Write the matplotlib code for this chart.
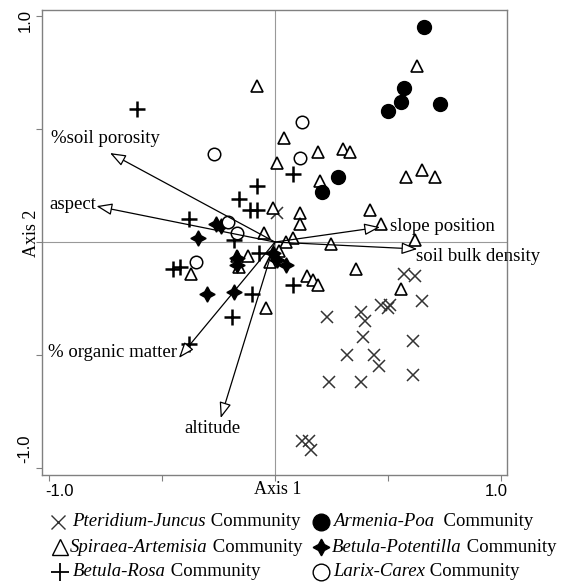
import matplotlib
matplotlib.use("Agg")
import matplotlib.pyplot as plt

SERIF = "Liberation Serif"
SANS = "Liberation Sans"
W, H = 563, 583

# site scores (Axis 1, Axis 2) per community
pteridium_x = [0.01, 0.57, 0.62, 0.65, 0.23, 0.38, 0.40, 0.47, 0.50, 0.51, 0.39,
               0.61, 0.32, 0.44, 0.46, 0.24, 0.38, 0.61, 0.12, 0.15, 0.16]
pteridium_y = [0.13, -0.14, -0.15, -0.26, -0.33, -0.31, -0.35, -0.28, -0.29, -0.28, -0.42,
               -0.44, -0.50, -0.50, -0.55, -0.62, -0.62, -0.59, -0.88, -0.88, -0.92]

spiraea_x = [0.63, -0.08, 0.04, 0.19, 0.30, 0.33, 0.01, 0.20, 0.58, 0.65, 0.71,
             -0.01, 0.11, 0.11, 0.42, 0.47, 0.08, 0.05, 0.25, 0.62, -0.05,
             -0.17, -0.12, -0.16, -0.37, -0.02, -0.04, 0.02, 0.36, 0.14, 0.17, 0.19, 0.56]
spiraea_y = [0.78, 0.69, 0.46, 0.40, 0.41, 0.40, 0.35, 0.27, 0.29, 0.32, 0.29,
             0.15, 0.13, 0.08, 0.14, 0.08, 0.02, 0.00, -0.01, 0.01, 0.04,
             -0.06, -0.06, -0.11, -0.14, -0.09, -0.29, -0.04, -0.12, -0.15, -0.17, -0.19, -0.21]

rosa_x = [-0.61, 0.08, -0.08, -0.16, -0.11, -0.08, -0.38, -0.18, -0.07, -0.45, -0.42,
          -0.10, 0.08, -0.19, -0.38]
rosa_y = [0.59, 0.30, 0.25, 0.19, 0.14, 0.14, 0.10, 0.01, -0.05, -0.12, -0.11,
          -0.23, -0.19, -0.33, -0.45]

armenia_x = [0.66, 0.57, 0.56, 0.50, 0.73, 0.28, 0.21]
armenia_y = [0.95, 0.68, 0.62, 0.58, 0.61, 0.29, 0.22]

potentilla_x = [-0.26, -0.24, -0.34, -0.17, -0.17, -0.01, 0.01, 0.05, -0.30, -0.18]
potentilla_y = [0.08, 0.07, 0.02, -0.07, -0.10, -0.05, -0.08, -0.10, -0.23, -0.22]

larix_x = [0.12, 0.11, -0.27, -0.21, -0.17, -0.35]
larix_y = [0.53, 0.37, 0.39, 0.09, 0.04, -0.09]

# environmental vectors
env_names = ["%soil porosity", "aspect", "slope position", "soil bulk density",
             "% organic matter", "altitude"]
env_x = [-0.73, -0.79, 0.465, 0.63, -0.425, -0.24]
env_y = [0.394, 0.159, 0.066, -0.031, -0.513, -0.779]
# label anchor (x, y, ha)
env_lab = [(-0.99, 0.46, "left"), (-1.0, 0.164, "left"), (0.51, 0.071, "left"),
           (0.625, -0.066, "left"), (-1.005, -0.491, "left"), (-0.275, -0.823, "center")]

fig = plt.figure(figsize=(W / 100, H / 100), dpi=100)
ax = fig.add_axes([42 / W, 1 - 475 / H, 465 / W, 465 / H])
ax.set_xlim(-1.031, 1.027)
ax.set_ylim(-1.031, 1.027)

ax.axhline(0, color="#999999", lw=0.8, zorder=0)
ax.axvline(0, color="#999999", lw=0.8, zorder=0)

for s in ax.spines.values():
    s.set_color("#808080")
    s.set_linewidth(1.0)

ax.set_xticks([-1, -0.5, 0, 0.5, 1])
ax.set_yticks([-1, -0.5, 0, 0.5, 1])
ax.set_xticklabels([])
ax.set_yticklabels([])
ax.tick_params(direction="out", length=4, color="#808080")

# tick labels (they sit slightly off the ticks in the original)
fig.text(59 / W, 1 - 491 / H, "-1.0", ha="center", va="center", family=SANS, fontsize=12)
fig.text(496 / W, 1 - 491 / H, "1.0", ha="center", va="center", family=SANS, fontsize=12)
fig.text(25 / W, 1 - 20 / H, "1.0", rotation=90, ha="center", va="center", family=SANS, fontsize=12)
fig.text(25 / W, 1 - 449 / H, "-1.0", rotation=90, ha="center", va="center", family=SANS, fontsize=12)

ms = 9
ax.plot(pteridium_x, pteridium_y, ls="none", marker="x", ms=ms, mew=1.1, color="#333333")
ax.plot(spiraea_x, spiraea_y, ls="none", marker="^", ms=ms, mew=1.2, mfc="white", mec="black")
ax.plot(rosa_x, rosa_y, ls="none", marker="+", ms=11, mew=1.8, color="black")
ax.plot(armenia_x, armenia_y, ls="none", marker="o", ms=10, color="black")
ax.plot(potentilla_x, potentilla_y, ls="none", marker=(4, 1, 0), ms=11, color="black")
ax.plot(larix_x, larix_y, ls="none", marker="o", ms=9, mew=1.1, mfc="white", mec="black")

for name, x, y, (lx, ly, ha) in zip(env_names, env_x, env_y, env_lab):
    ax.annotate("", xy=(x, y), xytext=(0, 0),
                arrowprops=dict(arrowstyle="-|>,head_length=0.8,head_width=0.3",
                                fc="white", ec="black", lw=0.9, mutation_scale=12,
                                shrinkA=0, shrinkB=0), zorder=5)
    ax.text(lx, ly, name, ha=ha, va="center", family=SERIF, fontsize=13.5, zorder=6)

fig.text(278 / W, 1 - 489 / H, "Axis 1", ha="center", va="center", family=SERIF, fontsize=13)
fig.text(32 / W, 1 - 233 / H, "Axis 2", rotation=90, ha="center", va="center",
         family=SERIF, fontsize=13)

# legend
lax = fig.add_axes([0, 0, 1, 1])
lax.axis("off")
lax.set_xlim(0, W)
lax.set_ylim(H, 0)

legend_rows = [
    (58, 522, 14, "Pteridium-Juncus", " Community", dict(marker="x", ms=10, mew=1.0, color="#333333")),
    (60, 547, 10, "Spiraea-Artemisia", " Community", dict(marker="^", ms=11, mew=1.0, mfc="white", mec="black")),
    (60, 572, 13, "Betula-Rosa", " Community", dict(marker="+", ms=13, mew=1.3, color="black")),
    (321, 522, 12, "Armenia-Poa", "  Community", dict(marker="o", ms=12, color="black")),
    (321, 547, 11, "Betula-Potentilla", " Community", dict(marker=(4, 1, 0), ms=12, color="black")),
    (321, 572, 12, "Larix-Carex", " Community", dict(marker="o", ms=12, mew=1.0, mfc="white", mec="black")),
]
fig.canvas.draw()
r = fig.canvas.get_renderer()
for mx, my, gap, ital, rest, mk in legend_rows:
    lax.plot([mx], [my], ls="none", clip_on=False, **mk)
    t = lax.text(mx + gap, my, ital, style="italic", ha="left", va="center",
                 family=SERIF, fontsize=13.5)
    bb = t.get_window_extent(renderer=r)
    x2 = bb.x1 * W / fig.bbox.width
    lax.text(x2, my, rest, ha="left", va="center", family=SERIF, fontsize=13.5)

fig.savefig("out.png", dpi=100)
